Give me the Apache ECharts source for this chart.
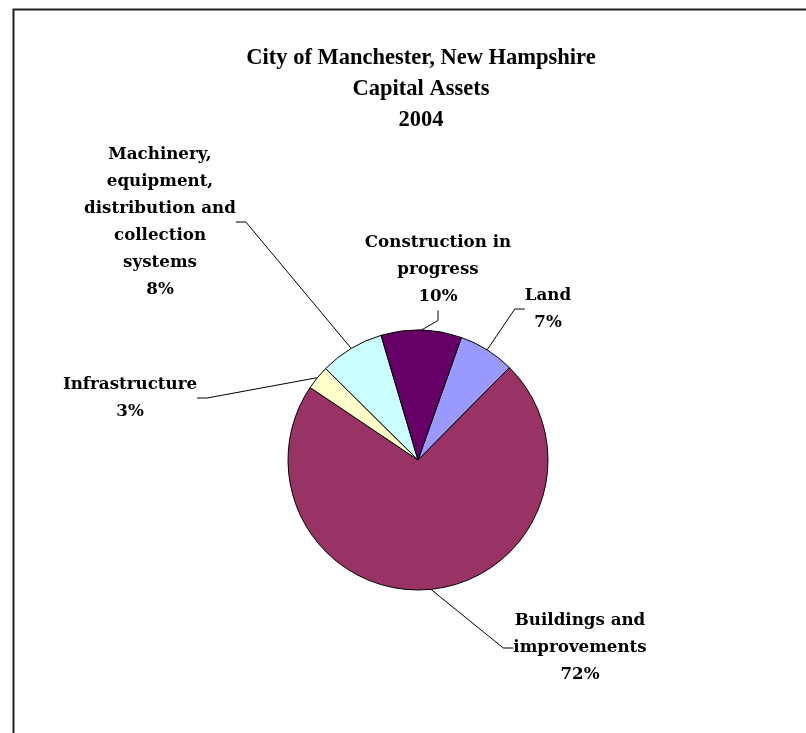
<!DOCTYPE html>
<html><head><meta charset="utf-8">
<script src="https://cdn.jsdelivr.net/npm/echarts@6/dist/echarts.min.js"></script>
<style>html,body{margin:0;padding:0;background:#fff}#c{width:806px;height:733px}</style>
</head><body><div id="c"></div>
<script>
// ---- data ----
const categories = ['Land', 'Buildings and improvements', 'Infrastructure',
  'Machinery, equipment, distribution and collection systems', 'Construction in progress'];
const labelTexts = ['Land', 'Buildings and\nimprovements', 'Infrastructure',
  'Machinery,\nequipment,\ndistribution and\ncollection\nsystems', 'Construction in\nprogress'];
const percents = [7, 72, 3, 8, 10];
const titleLines = ['City of Manchester, New Hampshire', 'Capital Assets', '2004'];

// ---- styling / layout ----
const colors = ['#9999FF', '#993366', '#FFFFCC', '#CCFFFF', '#660066'];
const labelAnchors = [[548, 309], [580, 648], [130, 398], [160, 222], [438, 270]];

const chart = echarts.init(document.getElementById('c'), null, {renderer: 'canvas'});
chart.setOption({
  animation: false,
  backgroundColor: '#fff',
  graphic: [{
    type: 'rect', silent: true, z: -1,
    shape: {x: 13.5, y: 9.5, width: 900, height: 900},
    style: {fill: 'none', stroke: '#222', lineWidth: 2}
  }],
  title: {
    text: titleLines.join('\n'),
    left: 416, top: 38, textAlign: 'center',
    textStyle: {fontFamily: 'Liberation Serif', fontWeight: 'bold', fontSize: 22.5, lineHeight: 31, color: '#000'}
  },
  series: [{
    type: 'pie',
    center: [418, 460],
    radius: 130,
    startAngle: 70.5,
    clockwise: true,
    avoidLabelOverlap: false,
    emphasis: {disabled: true},
    itemStyle: {borderColor: '#000', borderWidth: 1},
    label: {
      show: true, position: 'outside',
      formatter: p => labelTexts[p.dataIndex] + '\n' + p.percent.toFixed(0) + '%',
      fontFamily: 'DejaVu Serif', fontWeight: 'bold', fontSize: 16.7, lineHeight: 27,
      color: '#000', align: 'center'
    },
    labelLine: {show: true, length: 15, length2: 10, lineStyle: {color: '#000', width: 1}},
    labelLayout: p => {
      const a = labelAnchors[p.dataIndex];
      return {x: a[0], y: a[1], align: 'center', verticalAlign: 'middle'};
    },
    data: categories.map((c, i) => ({name: c, value: percents[i], itemStyle: {color: colors[i]}}))
  }]
});
</script></body></html>
